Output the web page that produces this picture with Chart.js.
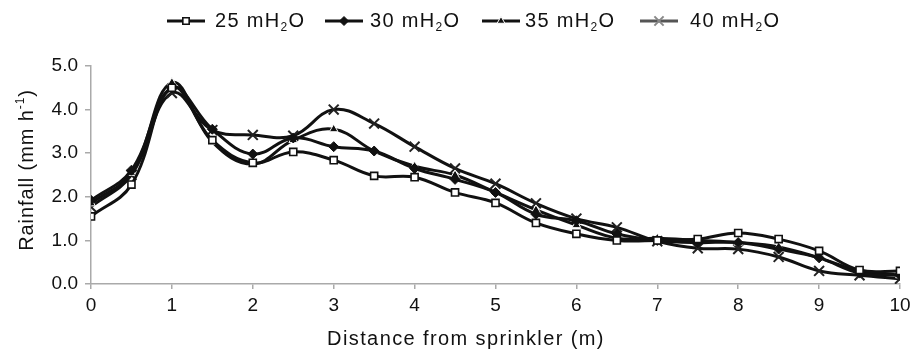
<!DOCTYPE html>
<html><head><meta charset="utf-8">
<script src="https://cdn.jsdelivr.net/npm/chart.js@4.4.1/dist/chart.umd.min.js"></script>
<style>html,body{margin:0;padding:0;background:#fff}#wrap{width:916px;height:350px;position:relative}</style>
</head><body><div id="wrap"><canvas id="c" width="916" height="350"></canvas></div>
<script>
const distances = [0,0.5,1,1.5,2,2.5,3,3.5,4,4.5,5,5.5,6,6.5,7,7.5,8,8.5,9,9.5,10];
const seriesNames = ['25 mH','30 mH','35 mH','40 mH'];
const s25 = [1.55,2.28,4.5,3.3,2.78,3.03,2.84,2.48,2.45,2.1,1.86,1.4,1.15,1.0,1.0,1.03,1.17,1.03,0.76,0.32,0.3];
const s30 = [1.92,2.61,4.5,3.55,2.98,3.35,3.15,3.05,2.65,2.4,2.1,1.6,1.45,1.15,1.0,0.95,0.95,0.8,0.6,0.25,0.2];
const s35 = [1.85,2.55,4.62,3.26,2.75,3.3,3.55,3.05,2.7,2.5,2.1,1.7,1.35,1.05,1.05,1.0,0.95,0.85,0.6,0.3,0.2];
const s40 = [1.77,2.5,4.38,3.53,3.42,3.4,4.0,3.68,3.15,2.65,2.3,1.85,1.5,1.3,0.98,0.82,0.8,0.62,0.3,0.2,0.12];
const yTicks = [0,1,2,3,4,5];
const xTicks = [0,1,2,3,4,5,6,7,8,9,10];
const xTitle = 'Distance from sprinkler (m)';
const yTitleMain = 'Rainfall (mm h';
const yTitleSup = '-1';
const yTitleEnd = ')';

const styles = [
  {pointStyle:'rect', bg:'#fff', bc:'#111', r:5, bw:1.6},
  {pointStyle:'rectRot', bg:'#111', bc:'#111', r:5, bw:1},
  {pointStyle:'triangle', bg:'#111', bc:'#fff', r:5, bw:1},
  {pointStyle:'crossRot', bg:'#fff', bc:'#222', r:7, bw:2}
];
const allSeries = [s25,s30,s35,s40];
const datasets = allSeries.map((s,i)=>({
  label: seriesNames[i] + '2O',
  data: distances.map((d,j)=>({x:d,y:s[j]})),
  borderColor:'#111', borderWidth:3, tension:0.4,
  pointStyle: styles[i].pointStyle, pointRadius: styles[i].r,
  pointBackgroundColor: styles[i].bg, pointBorderColor: styles[i].bc,
  pointBorderWidth: styles[i].bw, fill:false
}));

const FONT = '"Liberation Sans", Arial, sans-serif';

const textPlugin = {
  id:'customText',
  afterDraw(chart){
    const ctx = chart.ctx;
    const items = [
      {lx:167, tx:215},
      {lx:325, tx:370},
      {lx:482, tx:525},
      {lx:640, tx:690}
    ];
    const y = 21;
    ctx.save();
    items.forEach((it,i)=>{
      ctx.strokeStyle = i===3 ? '#555' : '#111';
      ctx.lineWidth = 3;
      ctx.beginPath(); ctx.moveTo(it.lx,y); ctx.lineTo(it.lx+38,y); ctx.stroke();
      const st = styles[i];
      ctx.fillStyle = st.bg; ctx.strokeStyle = i===3?'#888':st.bc; ctx.lineWidth = st.bw;
      Chart.helpers.drawPoint(ctx,{pointStyle:st.pointStyle, radius:st.r-0.5, borderWidth:st.bw, rotation:0}, it.lx+19, y);
      ctx.fillStyle = '#111';
      ctx.textBaseline = 'middle';
      ctx.textAlign = 'left';
      ctx.letterSpacing = '1.3px';
      ctx.font = '20px ' + FONT;
      const main = seriesNames[i];
      ctx.fillText(main, it.tx, y);
      let w = ctx.measureText(main).width;
      ctx.font = '12px ' + FONT;
      ctx.fillText('2', it.tx + w, y+7);
      let w2 = ctx.measureText('2').width;
      ctx.font = '20px ' + FONT;
      ctx.fillText('O', it.tx + w + w2, y);
    });
    // x axis title
    ctx.letterSpacing = '1.4px';
    ctx.font = '20px ' + FONT;
    ctx.textAlign = 'center';
    ctx.textBaseline = 'alphabetic';
    ctx.fillText(xTitle, 466, 345);
    // y axis title (rotated)
    ctx.translate(33, 170);
    ctx.rotate(-Math.PI/2);
    ctx.letterSpacing = '0.9px';
    ctx.font = '20px ' + FONT;
    ctx.textAlign = 'left';
    const w1 = ctx.measureText(yTitleMain).width;
    ctx.font = '12px ' + FONT;
    const ws = ctx.measureText(yTitleSup).width;
    ctx.font = '20px ' + FONT;
    const we = ctx.measureText(yTitleEnd).width;
    let sx = -(w1+ws+we)/2;
    ctx.fillText(yTitleMain, sx, 0);
    ctx.font = '12px ' + FONT;
    ctx.fillText(yTitleSup, sx + w1, -9);
    ctx.font = '20px ' + FONT;
    ctx.fillText(yTitleEnd, sx + w1 + ws, 0);
    ctx.restore();
  }
};

new Chart(document.getElementById('c'), {
  type:'line',
  data:{datasets},
  options:{
    responsive:false, animation:false,
    layout:{padding:{top:66,right:16,left:0,bottom:0}},
    plugins:{legend:{display:false}, tooltip:{enabled:false}},
    scales:{
      x:{type:'linear', min:0, max:10,
        afterFit(s){ s.height = 66; },
        afterBuildTicks(s){ s.ticks = xTicks.map(v=>({value:v})); },
        border:{color:'#aaa', width:1.5},
        grid:{display:true, drawOnChartArea:false, drawTicks:true, tickLength:5, color:'#aaa', lineWidth:1.5},
        ticks:{color:'#111', font:{family:FONT, size:19}, padding:5, maxRotation:0, autoSkip:false},
        title:{display:false}
      },
      y:{min:0, max:5,
        afterFit(s){ s.width = 91; },
        afterBuildTicks(s){ s.ticks = yTicks.map(v=>({value:v})); },
        border:{color:'#aaa', width:1.5},
        grid:{display:true, drawOnChartArea:false, drawTicks:true, tickLength:6, color:'#aaa', lineWidth:1.5},
        ticks:{color:'#111', font:{family:FONT, size:19}, padding:7, callback:v=>Number(v).toFixed(1)},
        title:{display:false}
      }
    }
  },
  plugins:[textPlugin]
});
</script></body></html>
